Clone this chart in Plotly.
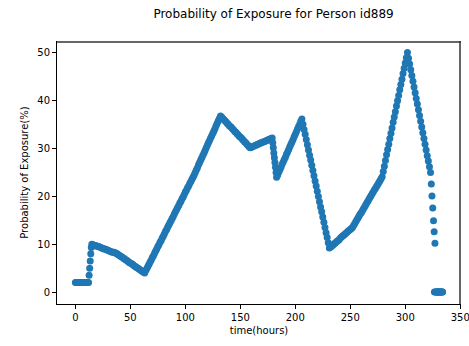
import plotly.graph_objects as go

# time (hours) and probability of exposure (%)
time_hours = [
    0, 1, 2, 3, 4, 5, 6, 7, 8, 9,
    10, 11, 12, 12.5, 13, 13.5, 14, 14.5, 15, 16, 17, 18, 19,
    20, 21, 22, 23, 24, 25, 26, 27, 28, 29,
    30, 31, 32, 33, 34, 35, 36, 37, 38, 39,
    40, 41, 42, 43, 44, 45, 46, 47, 48, 49,
    50, 51, 52, 53, 54, 55, 56, 57, 58, 59,
    60, 61, 62, 63, 64, 65, 66, 67, 68, 69,
    70, 71, 72, 73, 74, 75, 76, 77, 78, 79,
    80, 81, 82, 83, 84, 85, 86, 87, 88, 89,
    90, 91, 92, 93, 94, 95, 96, 97, 98, 99,
    100, 101, 102, 103, 104, 105, 106, 107, 108, 109,
    110, 111, 112, 113, 114, 115, 116, 117, 118, 119,
    120, 121, 122, 123, 124, 125, 126, 127, 128, 129,
    130, 131, 132, 133, 134, 135, 136, 137, 138, 139,
    140, 141, 142, 143, 144, 145, 146, 147, 148, 149,
    150, 151, 152, 153, 154, 155, 156, 157, 158, 159,
    160, 161, 162, 163, 164, 165, 166, 167, 168, 169,
    170, 171, 172, 173, 174, 175, 176, 177, 178, 179,
    179.5, 180, 180.5, 181, 181.5, 182, 182.5, 183, 184, 185, 186, 187, 188, 189,
    190, 191, 192, 193, 194, 195, 196, 197, 198, 199,
    200, 201, 202, 203, 204, 205, 206, 207, 208, 209,
    210, 211, 212, 213, 214, 215, 216, 217, 218, 219,
    220, 221, 222, 223, 224, 225, 226, 227, 228, 229,
    230, 231, 232, 233, 234, 235, 236, 237, 238, 239,
    240, 241, 242, 243, 244, 245, 246, 247, 248, 249,
    250, 251, 252, 253, 254, 255, 256, 257, 258, 259,
    260, 261, 262, 263, 264, 265, 266, 267, 268, 269,
    270, 271, 272, 273, 274, 275, 276, 277, 278, 279,
    280, 281, 282, 283, 284, 285, 286, 287, 288, 289,
    290, 291, 292, 293, 294, 295, 296, 297, 298, 299,
    300, 301, 302, 303, 304, 305, 306, 307, 308, 309,
    310, 311, 312, 313, 314, 315, 316, 317, 318, 319,
    320, 321, 322, 323, 323.7, 324.3, 325, 325.7, 326.3, 327,
    326.5, 327.5, 328, 328.5, 329, 329.5, 330, 330.5, 331, 331.5, 332, 332.5, 333, 333.5, 334,
]

exposure_pct = [
    2.0, 2.0, 2.0, 2.0, 2.0, 2.0, 2.0, 2.0, 2.0, 2.0,
    2.0, 2.0, 2.0, 3.5, 5.0, 6.5, 8.0, 9.3, 10.0, 9.9, 9.8, 9.7, 9.7,
    9.6, 9.5, 9.4, 9.3, 9.2, 9.1, 9.0, 9.0, 8.9, 8.8,
    8.7, 8.6, 8.5, 8.4, 8.3, 8.3, 8.2, 8.1, 8.0, 7.8,
    7.7, 7.5, 7.4, 7.2, 7.0, 6.9, 6.7, 6.6, 6.4, 6.2,
    6.1, 5.9, 5.8, 5.6, 5.4, 5.3, 5.1, 5.0, 4.8, 4.6,
    4.5, 4.3, 4.2, 4.0, 4.5, 4.9, 5.4, 5.8, 6.3, 6.7,
    7.2, 7.6, 8.1, 8.6, 9.0, 9.5, 9.9, 10.4, 10.8, 11.3,
    11.7, 12.2, 12.7, 13.1, 13.6, 14.0, 14.5, 14.9, 15.4, 15.8,
    16.3, 16.8, 17.2, 17.7, 18.1, 18.6, 19.0, 19.5, 19.9, 20.4,
    20.9, 21.3, 21.8, 22.2, 22.7, 23.1, 23.6, 24.0, 24.5, 25.0,
    25.5, 26.0, 26.6, 27.1, 27.6, 28.1, 28.6, 29.1, 29.6, 30.2,
    30.7, 31.2, 31.7, 32.2, 32.7, 33.2, 33.7, 34.2, 34.8, 35.3,
    35.8, 36.3, 36.8, 36.6, 36.3, 36.1, 35.8, 35.6, 35.3, 35.1,
    34.8, 34.6, 34.4, 34.1, 33.9, 33.6, 33.4, 33.1, 32.9, 32.6,
    32.4, 32.2, 31.9, 31.7, 31.4, 31.2, 30.9, 30.7, 30.4, 30.2,
    30.3, 30.4, 30.5, 30.6, 30.7, 30.8, 30.9, 31.0, 31.1, 31.2,
    31.3, 31.4, 31.5, 31.6, 31.7, 31.8, 31.9, 32.0, 32.1, 32.2,
    31.2, 30.2, 29.1, 28.1, 27.1, 26.1, 25.0, 24.0, 24.5, 25.1, 25.6, 26.1, 26.7, 27.2,
    27.7, 28.2, 28.8, 29.3, 29.8, 30.4, 30.9, 31.4, 31.9, 32.5,
    33.0, 33.5, 34.1, 34.6, 35.1, 35.7, 36.2, 35.1, 34.0, 33.0,
    31.9, 30.8, 29.7, 28.6, 27.6, 26.5, 25.4, 24.3, 23.2, 22.2,
    21.1, 20.0, 18.9, 17.8, 16.8, 15.7, 14.6, 13.5, 12.4, 11.4,
    10.3, 9.2, 9.4, 9.6, 9.8, 10.0, 10.2, 10.4, 10.6, 10.8,
    11.0, 11.3, 11.5, 11.7, 11.9, 12.1, 12.3, 12.5, 12.7, 12.9,
    13.1, 13.3, 13.5, 13.9, 14.3, 14.7, 15.1, 15.5, 15.9, 16.3,
    16.6, 17.0, 17.4, 17.8, 18.2, 18.6, 19.0, 19.4, 19.8, 20.2,
    20.6, 21.0, 21.4, 21.7, 22.1, 22.5, 22.9, 23.3, 23.7, 24.1,
    25.2, 26.3, 27.5, 28.7, 29.8, 30.9, 32.1, 33.2, 34.3, 35.5,
    36.6, 37.7, 38.9, 40.0, 41.1, 42.3, 43.4, 44.5, 45.7, 46.8,
    47.9, 49.0, 50.1, 48.9, 47.7, 46.5, 45.3, 44.1, 42.9, 41.7,
    40.5, 39.3, 38.1, 36.9, 35.7, 34.5, 33.3, 32.1, 30.9, 29.7,
    28.5, 27.4, 26.2, 25.0, 22.6, 20.1, 17.6, 14.9, 12.6, 10.2,
    0, 0, 0, 0, 0, 0, 0, 0, 0, 0, 0, 0, 0, 0, 0,
]

x_ticks = [0, 50, 100, 150, 200, 250, 300, 350]
y_ticks = [0, 10, 20, 30, 40, 50]

FONT = "DejaVu Sans, Verdana, sans-serif"

fig = go.Figure()
fig.add_trace(go.Scatter(
    x=time_hours, y=exposure_pct, mode="markers",
    marker=dict(color="#1f77b4", size=7, line=dict(width=0)),
    showlegend=False, cliponaxis=True,
))

axis_common = dict(
    showline=True, linecolor="#000000", linewidth=1, mirror=False,
    ticks="outside", ticklen=4, tickwidth=1, tickcolor="#000000",
    showgrid=False, zeroline=False, automargin=False,
    ticklabeloverflow="allow",
    tickfont=dict(family=FONT, size=10, color="#000000"),
)

frame_line = dict(color="#333333", width=1.5)
TOP_EDGE = 1 - 1.0 / 263
RIGHT_EDGE = 1 - 1.0 / 404

fig.update_layout(
    width=469, height=346,
    margin=dict(l=57, r=8, t=41, b=42, pad=0),
    paper_bgcolor="white", plot_bgcolor="white",
    font=dict(family=FONT, size=10, color="#000000"),
    title=dict(
        text="Probability of Exposure for Person id889",
        x=0.536, xanchor="center", xref="paper",
        y=1 - 14 / 346, yanchor="middle", yref="container",
        font=dict(family=FONT, size=12, color="#000000"),
    ),
    xaxis=dict(
        range=[-16.7, 350.7], tickvals=x_ticks,
        title=dict(text="time(hours)", standoff=4,
                   font=dict(family=FONT, size=10, color="#000000")),
        **axis_common,
    ),
    yaxis=dict(
        range=[-2.5, 52.5], tickvals=y_ticks,
        title=dict(text="Probability of Exposure(%)", standoff=6,
                   font=dict(family=FONT, size=10, color="#000000")),
        **axis_common,
    ),
    shapes=[
        dict(type="line", xref="paper", yref="paper", x0=0, x1=1,
             y0=TOP_EDGE, y1=TOP_EDGE, line=frame_line, layer="above"),
        dict(type="line", xref="paper", yref="paper", x0=RIGHT_EDGE, x1=RIGHT_EDGE,
             y0=0, y1=1, line=frame_line, layer="above"),
    ],
)

fig.write_html(
    "out.html",
    config={"displayModeBar": False},
    post_script="document.body.style.margin='0';document.body.style.overflow='hidden';",
)
